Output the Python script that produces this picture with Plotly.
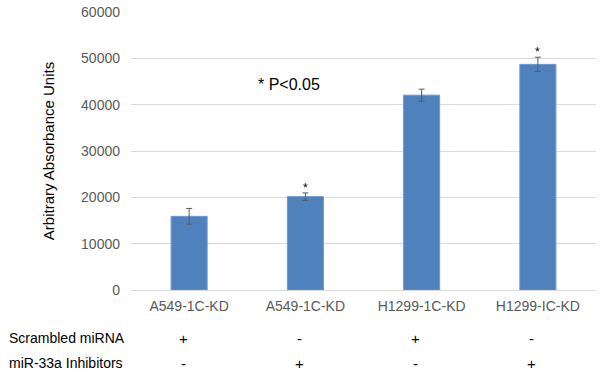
import plotly.graph_objects as go

categories = ["A549-1C-KD", "A549-1C-KD", "H1299-1C-KD", "H1299-IC-KD"]
values = [15900, 20150, 42050, 48700]
errors = [1700, 800, 1300, 1550]
significant = [False, True, False, True]
scrambled = ["+", "-", "+", "-"]
inhibitors = ["-", "+", "-", "+"]
y_ticks = [0, 10000, 20000, 30000, 40000, 50000, 60000]
y_tick_labels = [str(v) for v in y_ticks]

xs = list(range(len(categories)))
font_family = "Arial, Liberation Sans, sans-serif"

fig = go.Figure()
fig.add_trace(go.Bar(
    x=xs, y=values,
    marker=dict(color="#4f81bd", line=dict(color="#6a97cf", width=1)),
    width=0.31,
    error_y=dict(type="data", array=errors, visible=True, color="#595959", thickness=1, width=3),
))

annotations = []
for i, (v, e, s) in enumerate(zip(values, errors, significant)):
    if s:
        annotations.append(dict(x=i, y=v + e, xref="x", yref="y", text="*", showarrow=False,
                                yanchor="bottom", yshift=-4, font=dict(size=12, color="#000", family=font_family)))
annotations.append(dict(x=0.268, y=0.74, xref="paper", yref="paper", text="* P<0.05", showarrow=False,
                        xanchor="left", yanchor="middle", font=dict(size=16, color="#000", family=font_family)))

row_specs = [("Scrambled miRNA", scrambled, -48), ("miR-33a Inhibitors", inhibitors, -73)]
for label, signs, shift in row_specs:
    annotations.append(dict(x=0, y=0, xref="paper", yref="y", xshift=-124, yshift=shift, text=label,
                            showarrow=False, xanchor="left", yanchor="middle",
                            font=dict(size=14, color="#000", family=font_family)))
    for i, sg in enumerate(signs):
        annotations.append(dict(x=i, y=0, xref="x", yref="y", xshift=-6, yshift=shift, text=sg, showarrow=False,
                                xanchor="center", yanchor="middle",
                                font=dict(size=15, color="#000", family=font_family)))

fig.update_layout(
    width=600, height=373,
    margin=dict(l=131, r=4, t=9, b=83),
    paper_bgcolor="white", plot_bgcolor="white",
    showlegend=False,
    annotations=annotations,
    font=dict(family=font_family),
    xaxis=dict(range=[-0.5, 3.5], tickvals=xs, ticktext=categories, showgrid=False,
               tickfont=dict(size=14, color="#595959"), showline=False, ticks="", ticklabelstandoff=6),
    yaxis=dict(range=[0, 60000], tickvals=y_ticks, ticktext=y_tick_labels, showgrid=True,
               gridcolor="#d9d9d9", gridwidth=1,
               zeroline=True, zerolinecolor="#d9d9d9", zerolinewidth=1,
               tickfont=dict(size=14, color="#595959"), ticks="", ticklen=0, ticklabelstandoff=10,
               title=dict(text="Arbitrary Absorbance Units", font=dict(size=15, color="#000"), standoff=22)),
)

fig.write_html("out.html", config={"displayModeBar": False},
               post_script="document.body.style.margin='0';document.body.style.padding='0';")
